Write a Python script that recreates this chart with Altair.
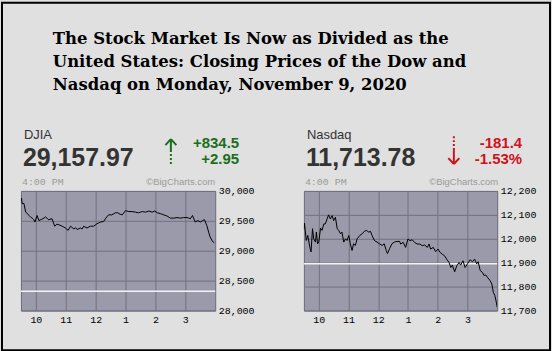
import altair as alt
import pandas as pd

# ---------------- data ----------------
title_lines = [
    "The Stock Market Is Now as Divided as the",
    "United States: Closing Prices of the Dow and",
    "Nasdaq on Monday, November 9, 2020",
]

dow_name = "DJIA"
dow_last = "29,157.97"
dow_chg = "+834.5"
dow_pct = "+2.95"
dow_prev_close = 28323.40
dow_ticks = [28000, 28500, 29000, 29500, 30000]
dow_time = [9.50, 9.52, 9.54, 9.60, 9.66, 9.72, 9.77, 9.83, 9.88, 9.93, 9.97, 10.04, 10.10, 10.19,
            10.27, 10.32, 10.38, 10.43, 10.54, 10.63, 10.70, 10.77, 10.88, 10.94, 10.99, 11.08,
            11.16, 11.27, 11.33, 11.38, 11.49, 11.55, 11.60, 11.71, 11.82, 11.93, 12.04, 12.16,
            12.27, 12.34, 12.43, 12.54, 12.66, 12.74, 12.82, 12.89, 13.00, 13.11, 13.22, 13.33,
            13.44, 13.56, 13.67, 13.78, 13.89, 13.98, 14.06, 14.17, 14.28, 14.39, 14.50, 14.61,
            14.72, 14.83, 14.94, 15.06, 15.17, 15.24, 15.33, 15.42, 15.50, 15.58, 15.64, 15.72,
            15.78, 15.83, 15.91, 15.97]
dow_value = [29840, 29880, 29790, 29790, 29645, 29620, 29590, 29560, 29545, 29520, 29480, 29590,
             29505, 29525, 29545, 29565, 29540, 29520, 29535, 29410, 29445, 29435, 29410, 29395,
             29380, 29340, 29410, 29365, 29385, 29355, 29380, 29365, 29410, 29380, 29410, 29410,
             29450, 29480, 29490, 29545, 29600, 29600, 29635, 29635, 29610, 29600, 29670, 29655,
             29655, 29645, 29635, 29655, 29645, 29665, 29645, 29665, 29635, 29620, 29600, 29580,
             29545, 29545, 29555, 29545, 29555, 29555, 29535, 29590, 29480, 29505, 29480, 29505,
             29520, 29420, 29310, 29230, 29155, 29135]

nas_name = "Nasdaq"
nas_last = "11,713.78"
nas_chg = "-181.4"
nas_pct = "-1.53%"
nas_prev_close = 11895.23
nas_ticks = [11700, 11800, 11900, 12000, 12100, 12200]
nas_time = [9.50, 9.52, 9.58, 9.63, 9.70, 9.74, 9.79, 9.83, 9.89, 9.92, 9.96, 10.00, 10.06, 10.11,
            10.17, 10.22, 10.28, 10.33, 10.39, 10.45, 10.50, 10.56, 10.62, 10.67, 10.73, 10.78,
            10.84, 10.90, 10.95, 11.01, 11.06, 11.12, 11.17, 11.23, 11.29, 11.38, 11.46, 11.53,
            11.60, 11.68, 11.74, 11.79, 11.87, 11.96, 12.04, 12.13, 12.20, 12.27, 12.31, 12.38,
            12.46, 12.54, 12.63, 12.72, 12.75, 12.84, 12.92, 13.00, 13.07, 13.14, 13.22, 13.31,
            13.40, 13.48, 13.56, 13.65, 13.71, 13.76, 13.85, 13.93, 14.01, 14.08, 14.15, 14.23,
            14.30, 14.38, 14.44, 14.49, 14.57, 14.64, 14.72, 14.77, 14.85, 14.92, 15.00, 15.09,
            15.17, 15.24, 15.31, 15.36, 15.43, 15.50, 15.56, 15.61, 15.67, 15.76, 15.82, 15.87,
            15.92, 15.97, 16.00]
nas_value = [12040, 12065, 11993, 12014, 11965, 11945, 12042, 12000, 11986, 12028, 11979, 11986,
             12045, 12035, 12062, 12062, 12083, 12100, 12083, 12097, 12076, 12090, 12042, 12035,
             12021, 12028, 11986, 12000, 11993, 12014, 11979, 11951, 11979, 11972, 12000, 12014,
             12021, 12031, 12035, 12028, 12031, 12014, 11993, 11986, 11979, 11972, 11979, 11951,
             11938, 11958, 11979, 11986, 11989, 11989, 11978, 11985, 11964, 11999, 11992, 11996,
             11985, 11978, 11978, 11971, 11974, 11964, 11978, 11957, 11964, 11946, 11957, 11943,
             11936, 11929, 11915, 11901, 11880, 11890, 11862, 11887, 11901, 11890, 11908, 11880,
             11895, 11912, 11904, 11915, 11895, 11904, 11867, 11860, 11846, 11849, 11839, 11825,
             11811, 11776, 11763, 11735, 11714]

hour_ticks = [10, 11, 12, 13, 14, 15]
time_label = "4:00 PM"
credit = "\u00a9BigCharts.com"

# ---------------- style ----------------
BG = "#e0e0e0"
PLOT_BG = "#9a9aaa"
GRID = "#70707f"
GREEN = "#1b6e1b"
RED = "#d0121b"
W, H = 195, 120
MONO = "Liberation Mono"
SANS = "Liberation Sans"

one = pd.DataFrame({"k": [0]})


def label(text, x, y, size, color, font=SANS, weight="normal", align="left"):
    return alt.Chart(one).mark_text(
        text=text, align=align, baseline="alphabetic", font=font,
        fontSize=size, fontWeight=weight, color=color,
    ).encode(x=alt.value(x), y=alt.value(y))


def seg(x1, y1, x2, y2, color, width=2, dash=None):
    kw = dict(color=color, strokeWidth=width)
    if dash:
        kw["strokeDash"] = dash
    return alt.Chart(one).mark_rule(**kw).encode(
        x=alt.value(x1), y=alt.value(y1), x2=alt.value(x2), y2=alt.value(y2))


def panel(times, values, prev, ticks, name, last, chg, pct, color, up):
    lo, hi = ticks[0], ticks[-1]
    df = pd.DataFrame({"t": times, "v": values})
    xs = alt.Scale(domain=[9.5, 16], nice=False, zero=False)
    ys = alt.Scale(domain=[lo, hi], nice=False, zero=False)
    xaxis = alt.Axis(values=hour_ticks, labelExpr="datum.value > 12 ? datum.value - 12 : datum.value",
                     grid=True, gridColor=GRID, gridWidth=1, ticks=False, domain=False,
                     labelFont=MONO, labelFontSize=10, labelColor="black", labelPadding=4, title=None)
    yaxis = alt.Axis(orient="right", values=ticks, labelExpr="format(datum.value, ',')",
                     grid=True, gridColor=GRID, gridWidth=1,
                     ticks=False, domain=False, labelFont=MONO, labelFontSize=10, labelColor="black",
                     labelPadding=3, title=None, labelBaseline="middle")
    prev_rule = alt.Chart(pd.DataFrame({"v": [prev]})).mark_rule(color="#f2f2f2", strokeWidth=1.5).encode(
        y=alt.Y("v:Q", scale=ys, axis=yaxis))
    line = alt.Chart(df).mark_line(color="black", strokeWidth=1, clip=True).encode(
        x=alt.X("t:Q", scale=xs, axis=xaxis),
        y=alt.Y("v:Q", scale=ys, axis=yaxis),
    )
    layers = [prev_rule, line,
              label(name, 3, -52, 13, "#333333"),
              label(last, 2, -25, 25, "#333333", weight="bold"),
              label(chg, 219, -43, 15, color, weight="bold", align="right"),
              label(pct, 219, -27, 15, color, weight="bold", align="right"),
              label(time_label, 1, -6, 10, "#9a9a9a", font=MONO),
              label(credit, W, -6, 9.5, "#9a9a9a", align="right")]
    ax = 150.5
    if up:
        layers += [seg(ax, -52, ax, -41, color, 2),
                   seg(ax, -27, ax, -41, color, 2, [2, 2]),
                   seg(ax, -52, ax - 5.5, -46, color, 2),
                   seg(ax, -52, ax + 5.5, -46, color, 2)]
    else:
        layers += [seg(ax, -55, ax, -41, color, 2, [2, 2]),
                   seg(ax, -41, ax, -27, color, 2),
                   seg(ax, -27, ax - 5.5, -33, color, 2),
                   seg(ax, -27, ax + 5.5, -33, color, 2)]
    return layers


left_layers = panel(dow_time, dow_value, dow_prev_close, dow_ticks, dow_name, dow_last,
                    dow_chg, dow_pct, GREEN, True)
border = alt.Chart(one).mark_rect(fill="transparent", stroke="black", strokeWidth=2).encode(
    x=alt.value(-19), x2=alt.value(531), y=alt.value(-189), y2=alt.value(160))
title_marks = [label(t, 32, -147 + 23 * i, 16.5, "black", font="DejaVu Serif", weight="bold")
               for i, t in enumerate(title_lines)]
left = alt.layer(border, *left_layers, *title_marks).properties(width=W, height=H)

right_layers = panel(nas_time, nas_value, nas_prev_close, nas_ticks, nas_name, nas_last,
                     nas_chg, nas_pct, RED, False)
right = alt.layer(*right_layers).properties(width=194, height=H)

chart = alt.hconcat(left, right, spacing=89, bounds="flush").properties(
    padding=0, background=BG
).configure_view(fill=PLOT_BG, stroke="#6a6a78", strokeWidth=1)

chart.save("out.html", embed_options={"renderer": "svg", "actions": False})
